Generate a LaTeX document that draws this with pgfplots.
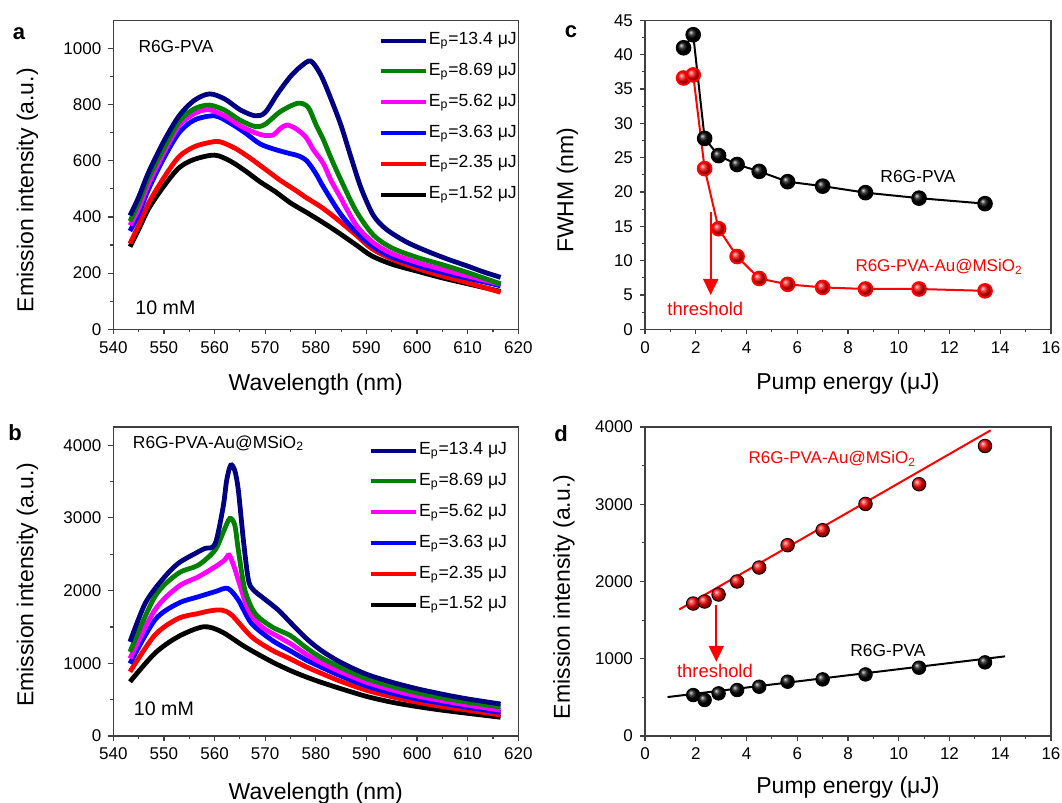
\documentclass[border=0pt]{standalone}
\usepackage{fontspec}
\setmainfont{Liberation Sans}
\setsansfont{Liberation Sans}
\usepackage{pgfplots}
\pgfplotsset{compat=1.18}
\usetikzlibrary{arrows.meta}

\definecolor{navy}{RGB}{0,0,128}
\definecolor{dgreen}{RGB}{0,128,0}
\definecolor{mag}{RGB}{255,0,255}
\definecolor{ablue}{RGB}{0,0,255}
\definecolor{ared}{RGB}{255,0,0}

\pgfplotsset{
  panel/.style={
    scale only axis, height=154.5pt,
    axis line style={black!75, line width=0.6pt},
    tick align=outside, xtick pos=bottom, ytick pos=left,
    major tick length=2.5pt, minor tick length=1.5pt,
    tick style={black!75, line width=0.6pt},
    minor tick num=1,
    /pgf/number format/assume math mode=true,
    /pgf/number format/1000 sep={},
    tick label style={font=\fontsize{8.5}{10}\selectfont},
    label style={font=\fontsize{11.5}{13}\selectfont},
  },
  spec/.style={line width=2.4pt, smooth},
  specleg/.style={
    reverse legend,
    legend style={draw=none, fill=none, inner sep=0pt, anchor=north west,
      row sep=4.8pt, font=\fontsize{8.8}{10}\selectfont,
      nodes={text height=6.8pt, text depth=2.6pt, inner sep=0.6pt},
      cells={anchor=west}},
  },
}

\begin{document}
\begin{tikzpicture}
\path[use as bounding box] (0,0) rectangle (531pt,-401.5pt);

% ---- panel a
\begin{axis}[panel, specleg,
  at={(56.65pt,-164.65pt)}, anchor=south west, width=202.5pt,
  xmin=540, xmax=620, ymin=0, ymax=1100,
  xtick={540,550,...,620}, ytick={0,200,...,1000},
  xlabel={Wavelength (nm)}, ylabel={Emission intensity (a.u.)},
  xlabel style={at={(axis description cs:0.5,-0.18)}, anchor=center},
  ylabel style={at={(axis description cs:-0.212,0.45)}, anchor=center},
  legend style={at={(axis description cs:0.654,0.970)}},
  legend image code/.code={\draw[#1, line width=2pt] (0pt,0pt) -- (22.5pt,0pt);},
]
\addplot[spec, black] coordinates {(543.3,294) (545,355) (547,430) (550,510) (553,575) (556,605) (560,620) (563,600) (566,565) (569,525) (572,490) (575,450) (578,418) (581,385) (584,350) (588,300) (591,262) (595,232) (600,207) (605,183) (610,162) (616.5,135)};
\addplot[spec, ared] coordinates {(543.3,305) (545,370) (547,450) (550,540) (553,615) (556,650) (559,665) (561,668) (564,645) (567,610) (570,570) (573,530) (576,495) (578,470) (581,436) (584,395) (588,335) (591,288) (595,250) (600,217) (605,190) (610,166) (616.5,132)};
\addplot[spec, ablue] coordinates {(543.3,350) (545,410) (547,500) (550,610) (553,700) (556,745) (560,760) (563,735) (566,700) (569,660) (572,640) (575,625) (576.5,618) (578.2,600) (580,555) (581.5,507) (584.8,413) (588,345) (591.4,294) (595,258) (600,228) (605,203) (610,182) (616.5,155)};
\addplot[spec, mag] coordinates {(543.3,370) (545,430) (547,520) (550,630) (553,725) (556,768) (558.8,782) (562,760) (565,725) (568,700) (570,690) (571.6,692) (573,715) (574.3,727) (576,715) (578,685) (579.5,640) (581.5,590) (583,530) (584.8,472) (588,370) (591.4,308) (595,270) (600,238) (605,213) (610,190) (616.5,160)};
\addplot[spec, dgreen] coordinates {(543.3,385) (545,450) (547,540) (550,645) (553,740) (556,785) (559,798) (562,780) (565,745) (568,722) (570,730) (573,775) (576.5,805) (578.5,790) (580,730) (581.5,675) (583,610) (585,530) (588,420) (591.4,335) (595,290) (600,256) (605,230) (610,202) (616.5,162)};
\addplot[spec, navy] coordinates {(543.3,405) (545,470) (547,560) (550,670) (553,760) (556,815) (559,838) (562,820) (565,782) (568,760) (570,772) (572.5,840) (575,900) (577,935) (579,955) (581,905) (583,820) (585,725) (587,610) (589,500) (591.4,405) (594,355) (598,310) (602,278) (606,250) (610,225) (613,205) (616.5,185)};
\legend{E\textsubscript{p}=1.52 μJ, E\textsubscript{p}=2.35 μJ, E\textsubscript{p}=3.63 μJ, E\textsubscript{p}=5.62 μJ, E\textsubscript{p}=8.69 μJ, E\textsubscript{p}=13.4 μJ}
\node[anchor=west, font=\fontsize{8.7}{10}\selectfont, inner sep=0pt] at (axis cs:544.9,1008) {R6G-PVA};
\node[anchor=west, font=\fontsize{9.8}{11}\selectfont, inner sep=0pt] at (axis cs:544.3,75) {10 mM};
\end{axis}

% ---- panel b
\begin{axis}[panel, specleg,
  at={(56.65pt,-368pt)}, anchor=south west, width=202.5pt,
  xmin=540, xmax=620, ymin=0, ymax=4250,
  xtick={540,550,...,620}, ytick={0,1000,...,4000},
  xlabel={Wavelength (nm)}, ylabel={Emission intensity (a.u.)},
  xlabel style={at={(axis description cs:0.5,-0.185)}, anchor=center},
  ylabel style={at={(axis description cs:-0.212,0.49)}, anchor=center},
  legend style={at={(axis description cs:0.630,0.959)}},
  legend image code/.code={\draw[#1, line width=2pt] (0pt,0pt) -- (22.5pt,0pt);},
]
\addplot[spec, black] coordinates {(543.3,746) (548.2,1137) (552.8,1366) (557.8,1502) (561.4,1434) (566,1228) (571.3,1022) (575,900) (578,815) (581,740) (585,650) (590,545) (595,465) (600,405) (605,355) (610,312) (616.5,258)};
\addplot[spec, ared] coordinates {(543.3,883) (548.2,1387) (552.8,1616) (556.8,1685) (559,1720) (561.4,1732) (563.4,1663) (567.3,1366) (571.3,1183) (575,1060) (578,955) (581,865) (585,750) (590,630) (595,540) (600,465) (605,405) (610,355) (616.5,290)};
\addplot[spec, ablue] coordinates {(543.3,997) (548.2,1595) (552.8,1824) (556.8,1915) (560.1,1985) (562.6,2030) (564.7,1870) (567.3,1549) (571.3,1320) (575,1170) (578,1050) (581,950) (585,825) (590,690) (595,590) (600,510) (605,450) (610,395) (616.5,325)};
\addplot[spec, mag] coordinates {(543.3,1066) (548.2,1732) (552.8,2053) (556.8,2190) (560.1,2327) (562,2420) (562.9,2488) (564.0,2300) (564.7,2144) (566.7,1732) (569.3,1503) (572.6,1366) (575,1270) (578,1130) (581,1010) (585,880) (590,740) (595,635) (600,550) (605,485) (610,425) (616.5,355)};
\addplot[spec, dgreen] coordinates {(543.3,1157) (548.2,1915) (552.8,2236) (556.8,2350) (560.1,2557) (561.7,2800) (563.0,2992) (564.0,2900) (564.7,2557) (566,2007) (568,1687) (571.3,1503) (575,1380) (578,1220) (581,1080) (585,940) (590,790) (595,685) (600,595) (605,525) (610,465) (616.5,400)};
\addplot[spec, navy] coordinates {(543.3,1296) (546.3,1824) (549.6,2144) (552.8,2373) (556.8,2534) (558.1,2580) (560.1,2640) (561.7,3152) (562.4,3519) (563.2,3725) (564.0,3650) (564.7,3381) (565.7,2694) (566.7,2144) (567.7,2007) (569.3,1916) (572.6,1732) (575,1560) (578,1350) (581,1180) (585,1010) (590,850) (595,740) (600,650) (605,575) (610,510) (616.5,440)};
\legend{E\textsubscript{p}=1.52 μJ, E\textsubscript{p}=2.35 μJ, E\textsubscript{p}=3.63 μJ, E\textsubscript{p}=5.62 μJ, E\textsubscript{p}=8.69 μJ, E\textsubscript{p}=13.4 μJ}
\node[anchor=west, font=\fontsize{8.7}{10}\selectfont, inner sep=0pt] at (axis cs:543.8,4023) {R6G-PVA-Au@MSiO\textsubscript{2}};
\node[anchor=west, font=\fontsize{9.8}{11}\selectfont, inner sep=0pt] at (axis cs:544.0,381) {10 mM};
\end{axis}

% ---- panel c
\begin{axis}[panel,
  at={(322.5pt,-164.65pt)}, anchor=south west, width=203pt,
  xmin=0, xmax=16, ymin=0, ymax=45,
  xtick={0,2,...,16}, ytick={0,5,...,45},
  xlabel={Pump energy (μJ)}, ylabel={FWHM (nm)},
  xlabel style={at={(axis description cs:0.5,-0.175)}, anchor=center},
  ylabel style={at={(axis description cs:-0.191,0.45)}, anchor=center},
  clip=false,
]
\addplot[black, line width=1pt, mark=ball, mark size=3.4pt, mark options={ball color=black}] coordinates {(1.52,41.0) (1.9,42.9) (2.35,27.8) (2.9,25.3) (3.63,24.0) (4.5,23.0) (5.62,21.5) (7.0,20.85) (8.69,19.9) (10.8,19.1) (13.4,18.3)};
\addplot[ared, line width=1pt, mark=ball, mark size=3.4pt, mark options={ball color=ared}] coordinates {(1.52,36.6) (1.9,37.05) (2.35,23.4) (2.9,14.65) (3.63,10.6) (4.5,7.4) (5.62,6.55) (7.0,6.1) (8.69,5.87) (10.8,5.87) (13.4,5.6)};
\draw[ared, line width=1pt, -{Triangle[width=7.5pt,length=8pt]}] (axis cs:2.59,17.1) -- (axis cs:2.59,5.0);
\node[anchor=west, text=ared, font=\fontsize{9.2}{11}\selectfont, inner sep=0pt] at (axis cs:0.87,2.91) {threshold};
\node[font=\fontsize{8.7}{10}\selectfont, inner sep=0pt] at (axis cs:10.76,22.2) {R6G-PVA};
\node[anchor=west, text=ared, font=\fontsize{8.5}{10}\selectfont, inner sep=0pt] at (axis cs:8.28,9.1) {R6G-PVA-Au@MSiO\textsubscript{2}};
\end{axis}

% ---- panel d
\begin{axis}[panel,
  at={(322.5pt,-368pt)}, anchor=south west, width=203pt,
  xmin=0, xmax=16, ymin=0, ymax=4000,
  xtick={0,2,...,16}, ytick={0,1000,...,4000},
  xlabel={Pump energy (μJ)}, ylabel={Emission intensity (a.u.)},
  xlabel style={at={(axis description cs:0.5,-0.168)}, anchor=center},
  ylabel style={at={(axis description cs:-0.2,0.45)}, anchor=center},
  clip=false,
]
\addplot[ared, line width=1pt, no marks] coordinates {(1.35,1638) (13.62,3957)};
\addplot[black, line width=1pt, no marks] coordinates {(0.89,504) (14.19,1031)};
\addplot[only marks, mark=ball, mark size=3.4pt, mark options={ball color=ared}] coordinates {(1.9,1715) (2.35,1741) (2.9,1832) (3.63,2000) (4.5,2181) (5.62,2470) (7.0,2664) (8.69,3004) (10.8,3259) (13.4,3754)};
\addplot[only marks, mark=ball, mark size=3.4pt, mark options={ball color=black}] coordinates {(1.9,530) (2.35,466) (2.9,552) (3.63,595) (4.5,638) (5.62,703) (7.0,733) (8.69,797) (10.8,884) (13.4,953)};
\draw[ared, line width=1pt, -{Triangle[width=7.5pt,length=8pt]}] (axis cs:2.81,1694) -- (axis cs:2.81,961);
\node[anchor=west, text=ared, font=\fontsize{9.2}{11}\selectfont, inner sep=0pt] at (axis cs:1.25,845) {threshold};
\node[anchor=west, font=\fontsize{8.7}{10}\selectfont, inner sep=0pt] at (axis cs:8.08,1103) {R6G-PVA};
\node[anchor=west, text=ared, font=\fontsize{8.5}{10}\selectfont, inner sep=0pt] at (axis cs:4.07,3591) {R6G-PVA-Au@MSiO\textsubscript{2}};
\end{axis}

\node[font=\bfseries\fontsize{11}{13}\selectfont] at (9.5pt,-17pt) {a};
\node[font=\bfseries\fontsize{11}{13}\selectfont] at (7.5pt,-216.5pt) {b};
\node[font=\bfseries\fontsize{11}{13}\selectfont] at (285.5pt,-16pt) {c};
\node[font=\bfseries\fontsize{11}{13}\selectfont] at (280.5pt,-216.75pt) {d};
\end{tikzpicture}
\end{document}
